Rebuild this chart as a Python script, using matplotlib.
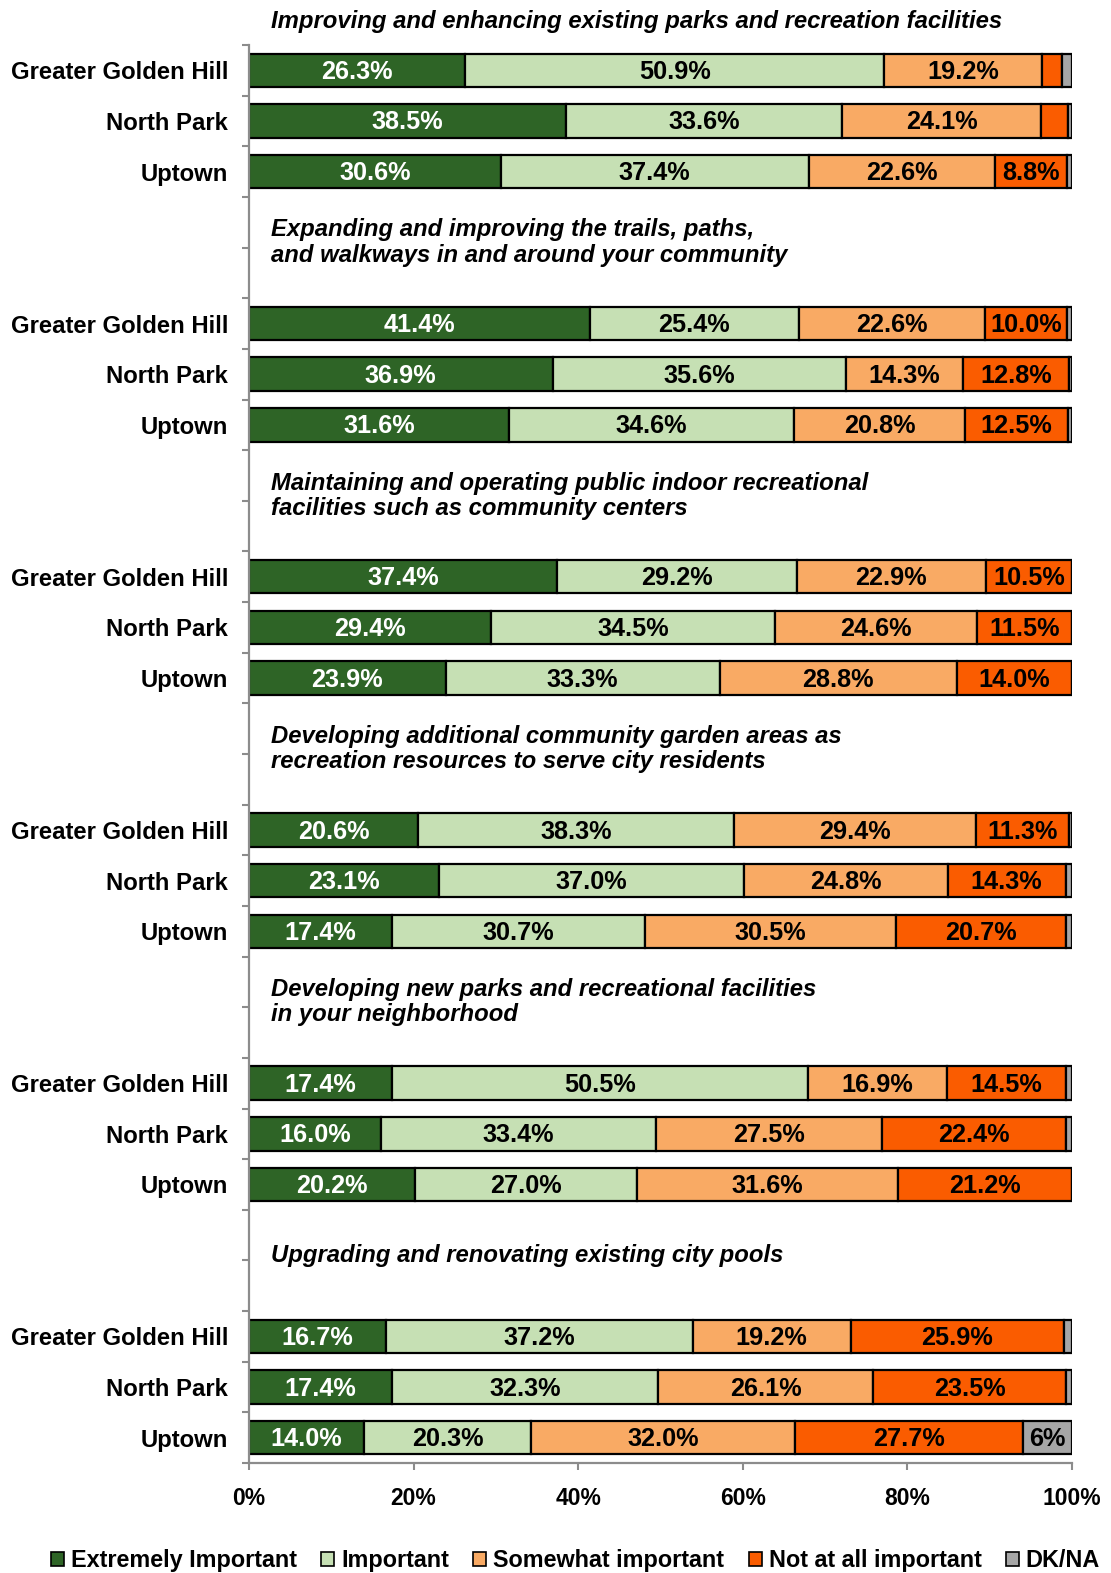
import matplotlib

matplotlib.use("Agg")
import matplotlib.pyplot as plt
from matplotlib.patches import Patch
from matplotlib.ticker import FixedLocator

plt.rcParams["font.family"] = ["Liberation Sans", "DejaVu Sans"]
plt.rcParams["font.weight"] = "bold"

TOPICS = [
    "Improving and enhancing existing parks and recreation facilities",
    "Expanding and improving the trails, paths,\nand walkways in and around your community",
    "Maintaining and operating public indoor recreational\nfacilities such as community centers",
    "Developing additional community garden areas as\nrecreation resources to serve city residents",
    "Developing new parks and recreational facilities\nin your neighborhood",
    "Upgrading and renovating existing city pools",
]
COMMUNITIES = ["Greater Golden Hill", "North Park", "Uptown"]

SERIES = ["Extremely Important", "Important", "Somewhat important", "Not at all important", "DK/NA"]

# one value per (topic, community), topic-major order
extremely = [26.3, 38.5, 30.6, 41.4, 36.9, 31.6, 37.4, 29.4, 23.9,
             20.6, 23.1, 17.4, 17.4, 16.0, 20.2, 16.7, 17.4, 14.0]
important = [50.9, 33.6, 37.4, 25.4, 35.6, 34.6, 29.2, 34.5, 33.3,
             38.3, 37.0, 30.7, 50.5, 33.4, 27.0, 37.2, 32.3, 20.3]
somewhat = [19.2, 24.1, 22.6, 22.6, 14.3, 20.8, 22.9, 24.6, 28.8,
            29.4, 24.8, 30.5, 16.9, 27.5, 31.6, 19.2, 26.1, 32.0]
not_at_all = [2.4, 3.3, 8.8, 10.0, 12.8, 12.5, 10.5, 11.5, 14.0,
              11.3, 14.3, 20.7, 14.5, 22.4, 21.2, 25.9, 23.5, 27.7]
dk_na = [1.2, 0.5, 0.6, 0.6, 0.4, 0.5, 0.0, 0.0, 0.0,
         0.4, 0.8, 0.7, 0.7, 0.7, 0.0, 1.0, 0.7, 6.0]

COLORS = ["#2e6426", "#c6e0b4", "#f9aa64", "#fa5c00", "#a6a6a6"]
TEXT_COLORS = ["white", "black", "black", "black", "black"]
LABEL_FMT = ["{:.1f}%", "{:.1f}%", "{:.1f}%", "{:.1f}%", "{:.0f}%"]
MIN_LABEL = 5.0

GROUP_SLOTS = 5  # 3 bars + 2 blank rows for the next title


def bar_positions():
    pos = []
    for g in range(len(TOPICS)):
        for i in range(len(COMMUNITIES)):
            pos.append(g * GROUP_SLOTS + i)
    return pos


def main() -> None:
    values = [extremely, important, somewhat, not_at_all, dk_na]
    ypos = bar_positions()
    n_slots = (len(TOPICS) - 1) * GROUP_SLOTS + len(COMMUNITIES)

    fig = plt.figure(figsize=(11.11, 15.73), dpi=100)
    ax = fig.add_axes([0.224, 0.0699, 0.741, 0.9015])

    left = [0.0] * len(ypos)
    for s, vals in enumerate(values):
        ax.barh(ypos, vals, left=left, height=0.66, color=COLORS[s],
                edgecolor="black", linewidth=1.6, label=SERIES[s], zorder=2)
        for y, l, v in zip(ypos, left, vals):
            if v >= MIN_LABEL:
                ax.text(l + v / 2, y + 0.03, LABEL_FMT[s].format(v), ha="center", va="center",
                        color=TEXT_COLORS[s], fontsize=18.2, fontweight="bold", zorder=3)
        left = [a + b for a, b in zip(left, vals)]

    for g, topic in enumerate(TOPICS):
        ty = -0.97 if g == 0 else g * GROUP_SLOTS - 1.6
        ax.text(2.7, ty, topic, ha="left", va="center", fontsize=17.2, fontweight="bold",
                fontstyle="italic", linespacing=1.12, clip_on=False)

    ax.set_xlim(0, 100)
    ax.set_ylim(n_slots - 0.5, -0.5)
    ax.set_xticks(range(0, 101, 20))
    ax.set_xticklabels([f"{x}%" for x in range(0, 101, 20)], fontsize=16.5, fontweight="bold")
    ax.set_yticks(ypos)
    ax.set_yticklabels(COMMUNITIES * len(TOPICS), fontsize=17.2, fontweight="bold")
    ax.yaxis.set_minor_locator(FixedLocator([k - 0.5 for k in range(n_slots + 1)]))
    ax.tick_params(axis="y", which="major", length=0, pad=15)
    ax.tick_params(axis="y", which="minor", length=5, width=1.5, color="#8c8c8c")
    ax.tick_params(axis="x", length=5, width=1.5, color="#8c8c8c", pad=12)

    for side in ["top", "right"]:
        ax.spines[side].set_visible(False)
    for side in ["left", "bottom"]:
        ax.spines[side].set_color("#8c8c8c")
        ax.spines[side].set_linewidth(1.6)

    handles = [Patch(facecolor=c, edgecolor="black", linewidth=1.2) for c in COLORS]
    fig.legend(handles, SERIES, loc="center", bbox_to_anchor=(0.518, 0.008), ncol=5, frameon=False,
               prop={"size": 16.8, "weight": "bold"}, handlelength=0.55, handleheight=0.55,
               handletextpad=0.3, columnspacing=1.05)

    fig.savefig("out.png", dpi=100)
    plt.close(fig)


if __name__ == "__main__":
    main()
